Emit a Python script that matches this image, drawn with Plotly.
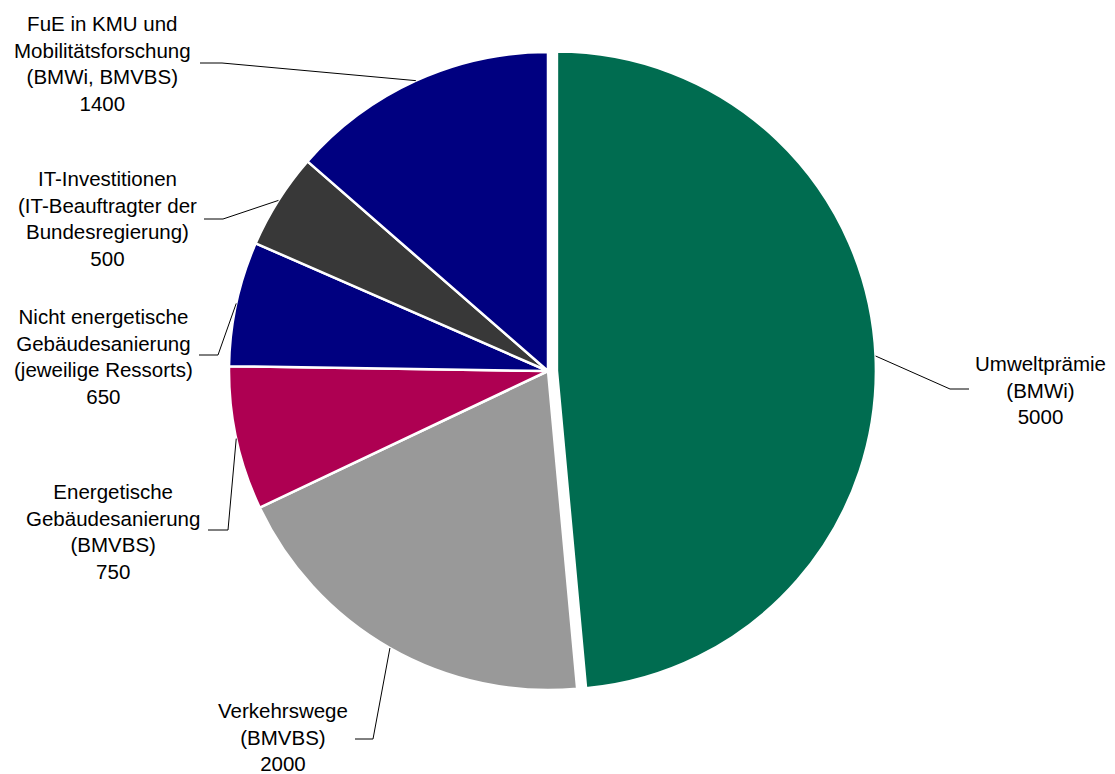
import math
import plotly.graph_objects as go

# ---- data ----
categories = [
    "Umweltprämie<br>(BMWi)",
    "Verkehrswege<br>(BMVBS)",
    "Energetische<br>Gebäudesanierung<br>(BMVBS)",
    "Nicht energetische<br>Gebäudesanierung<br>(jeweilige Ressorts)",
    "IT-Investitionen<br>(IT-Beauftragter der<br>Bundesregierung)",
    "FuE in KMU und<br>Mobilitätsforschung<br>(BMWi, BMVBS)",
]
values = [5000, 2000, 750, 650, 500, 1400]

# ---- style ----
colors = ["#006C50", "#999999", "#AE0052", "#000080", "#383838", "#000080"]
pulls = [0.028, 0, 0, 0, 0, 0]

W, H = 1115, 774
OFF = 8                            # page body margin offset (px)
CX, CY, R = 548, 371, 319          # pie centre / radius in screen pixels
FONT = "Liberation Sans, Arial, sans-serif"
FS = 20.5

# label block centre (px) and elbow / horizontal end of the leader line (px)
label_layout = [
    dict(lx=1040, ly=390, ex=950, ey=389, hx=969, hy=389),
    dict(lx=283, ly=737, ex=373, ey=739, hx=355, hy=739),
    dict(lx=113, ly=531, ex=228, ey=530, hx=208, hy=530),
    dict(lx=103, ly=356, ex=218, ey=355, hx=199, hy=355),
    dict(lx=107, ly=218, ex=223, ey=219, hx=204, hy=219),
    dict(lx=102, ly=63, ex=222, ey=63, hx=200, hy=63),
]


def px(x):
    return (x - OFF) / W


def py(y):
    return 1 - (y - OFF) / H


maxpull = max(pulls)
box = 2 * R * (1 + maxpull)
dom_x = [px(CX - box / 2), px(CX + box / 2)]
dom_y = [py(CY + box / 2), py(CY - box / 2)]

fig = go.Figure(go.Pie(
    labels=categories, values=values, sort=False, direction="clockwise",
    rotation=0, pull=pulls, textinfo="none", hoverinfo="label+value",
    marker=dict(colors=colors, line=dict(color="white", width=2.5)),
    domain=dict(x=dom_x, y=dom_y), showlegend=False,
))

total = sum(values)
cum = 0
shapes, annotations = [], []
for cat, val, pl, lay in zip(categories, values, pulls, label_layout):
    mid = math.radians((cum + val / 2) / total * 360)
    cum += val
    rr = R * (1 + pl)
    sx = CX + rr * math.sin(mid)
    sy = CY - rr * math.cos(mid)
    shapes.append(dict(
        type="path", xref="paper", yref="paper",
        path=f"M {px(sx)} {py(sy)} L {px(lay['ex'])} {py(lay['ey'])} L {px(lay['hx'])} {py(lay['hy'])}",
        line=dict(color="#000000", width=1),
    ))
    annotations.append(dict(
        x=px(lay["lx"]), y=py(lay["ly"]), xref="paper", yref="paper",
        text=f"{cat}<br>{val}", showarrow=False, align="center",
        xanchor="center", yanchor="middle",
        font=dict(family=FONT, size=FS, color="#000000"),
    ))

fig.update_layout(
    width=W, height=H, margin=dict(l=0, r=0, t=0, b=0),
    paper_bgcolor="white", plot_bgcolor="white",
    shapes=shapes, annotations=annotations,
    font=dict(family=FONT, size=FS, color="#000000"),
)

fig.write_html("out.html")
